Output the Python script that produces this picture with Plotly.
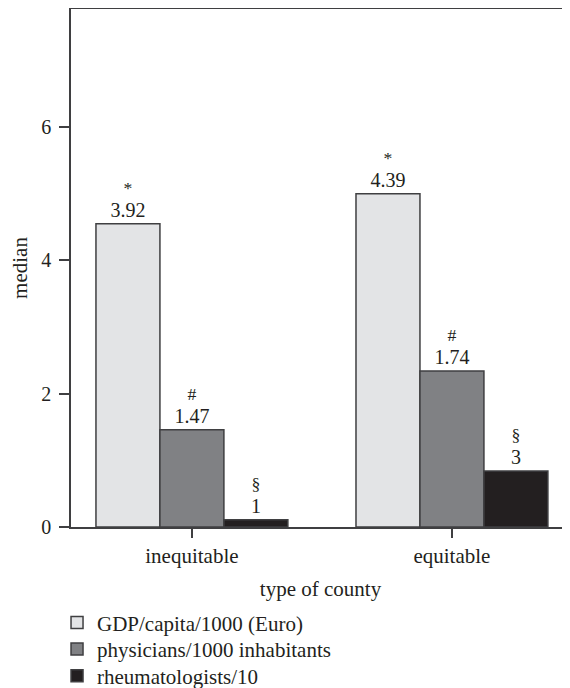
import plotly.graph_objects as go

categories = ["inequitable", "equitable"]
series_names = ["GDP/capita/1000 (Euro)", "physicians/1000 inhabitants", "rheumatologists/10"]
gdp_values = [4.55, 5.0]
physicians_values = [1.46, 2.34]
rheum_values = [0.11, 0.84]
gdp_labels = ["3.92", "4.39"]
physicians_labels = ["1.47", "1.74"]
rheum_labels = ["1", "3"]
significance_marks = ["*", "#", "§"]
y_ticks = [0, 2, 4, 6]

colors = ["#e3e4e6", "#808184", "#231f20"]
FONT = "Liberation Serif"
TXT = "#231f20"
LINE = "#3f3f41"
WORD_SIZE = 21

legend_ids = ["legend", "legend2", "legend3"]
legend_y = [-0.185, -0.236, -0.288]

fig = go.Figure()
for name, vals, labs, mark, col, lid in zip(
    series_names,
    [gdp_values, physicians_values, rheum_values],
    [gdp_labels, physicians_labels, rheum_labels],
    significance_marks,
    colors,
    legend_ids,
):
    fig.add_trace(go.Bar(
        x=categories, y=vals, name=name, legend=lid,
        text=[f"{mark}<br><span style='font-size:20px'>{l}</span>" for l in labs],
        textposition="outside",
        textfont=dict(family=FONT, size=17.7, color=TXT),
        cliponaxis=False,
        constraintext="none",
        marker=dict(color=col, line=dict(color=LINE, width=1.5)),
    ))

legend_common = dict(
    x=-0.028, xanchor="left", yanchor="middle",
    font=dict(family=FONT, size=WORD_SIZE, color=TXT),
    bgcolor="rgba(0,0,0,0)", borderwidth=0,
)
layout_legends = {lid: dict(y=ly, **legend_common) for lid, ly in zip(legend_ids, legend_y)}

fig.update_layout(
    width=570, height=688,
    margin=dict(l=63, r=8, t=1, b=169, autoexpand=False),
    paper_bgcolor="white", plot_bgcolor="white",
    barmode="group", bargap=0.262, bargroupgap=0,
    font=dict(family=FONT, size=20, color=TXT),
    showlegend=True,
    **layout_legends,
)
fig.update_xaxes(
    type="category", range=[-0.465, 1.454], automargin=False,
    showline=True, linecolor=LINE, linewidth=1.5, mirror=True,
    ticks="outside", ticklen=9, tickwidth=1.5, tickcolor=LINE,
    ticklabelstandoff=0,
    tickfont=dict(family=FONT, size=WORD_SIZE, color=TXT),
    title=dict(text="type of county", font=dict(family=FONT, size=WORD_SIZE, color=TXT), standoff=14),
    showgrid=False, zeroline=False,
)
fig.update_yaxes(
    range=[0, 7.77], tickvals=y_ticks, automargin=False,
    showline=True, linecolor=LINE, linewidth=1.5,
    ticks="outside", ticklen=10, tickwidth=1.5, tickcolor=LINE,
    ticklabelstandoff=4,
    tickfont=dict(family=FONT, size=20, color=TXT),
    title=dict(text="median", font=dict(family=FONT, size=WORD_SIZE, color=TXT), standoff=9),
    showgrid=False, zeroline=False,
)

fig.write_html("out.html")
